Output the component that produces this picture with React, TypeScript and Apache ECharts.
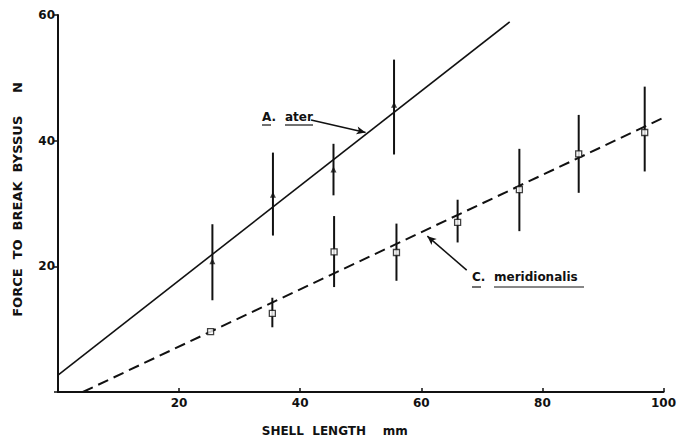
import React, { useEffect, useRef } from "react";
import * as echarts from "echarts";

const xTicks = [20, 40, 60, 80, 100];
const yTicks = [20, 40, 60];

const aterX = [25.5, 35.5, 45.5, 55.5];
const aterMean = [20.8, 31.4, 35.4, 45.7];
const aterLow = [14.6, 24.9, 31.3, 37.8];
const aterHigh = [26.7, 38.1, 39.5, 52.9];
const aterFit = [[0, 2.7], [74.6, 58.9]];

const merX = [25.2, 35.4, 45.6, 55.9, 66, 76.2, 86, 96.9];
const merMean = [9.6, 12.5, 22.3, 22.2, 27.0, 32.2, 37.9, 41.3];
const merLow = [9.6, 10.3, 16.7, 17.7, 23.8, 25.6, 31.7, 35.1];
const merHigh = [9.6, 15.0, 28.0, 26.8, 30.6, 38.7, 44.1, 48.6];
const merFit = [[4.1, 0], [101, 44.1]];

const aterArrow = [[41.8, 43.3], [50.8, 41.3]];
const merArrow = [[67.5, 19.4], [61.0, 24.8]];

const FONT = "DejaVu Sans";

export default function App() {
  const ref = useRef<HTMLDivElement>(null);
  useEffect(() => {
    const chart = echarts.init(ref.current!, null, { renderer: "svg" });
    const errData = (xs: number[], lo: number[], hi: number[]) =>
      xs.map((x, i) => [x, lo[i], hi[i]]);
    const errSeries = (data: number[][]) => ({
      type: "custom",
      data,
      silent: true,
      z: 3,
      renderItem: (params: any, api: any) => {
        const p1 = api.coord([api.value(0), api.value(1)]);
        const p2 = api.coord([api.value(0), api.value(2)]);
        return {
          type: "line",
          shape: { x1: p1[0], y1: p1[1], x2: p2[0], y2: p2[1] },
          style: { stroke: "#111", lineWidth: 2 },
        };
      },
    });
    const ul = (x1: number, x2: number, y: number) => ({
      type: "line",
      shape: { x1, y1: y, x2, y2: y },
      style: { stroke: "#111", lineWidth: 1.2 },
    });
    const txt = (text: string, left: number, top: number) => ({
      type: "text",
      left,
      top,
      style: { text, font: `bold 12px ${FONT}`, fill: "#111" },
    });
    chart.setOption({
      animation: false,
      backgroundColor: "#fff",
      grid: { left: 58, right: 11, top: 15, bottom: 49 },
      xAxis: {
        type: "value",
        min: 0,
        max: 100,
        interval: 20,
        splitLine: { show: false },
        axisLine: { lineStyle: { color: "#111", width: 2 } },
        axisTick: { inside: true, length: 4, lineStyle: { color: "#111", width: 1.5 } },
        axisLabel: {
          color: "#111",
          fontFamily: FONT,
          fontWeight: "bold",
          fontSize: 12,
          margin: 5,
          formatter: (v: number) => (xTicks.includes(v) ? String(v) : ""),
        },
        name: "SHELL  LENGTH    mm",
        nameLocation: "middle",
        nameGap: 33,
        nameTextStyle: {
          color: "#111",
          fontFamily: FONT,
          fontWeight: "bold",
          fontSize: 12,
          padding: [0, 52, 0, 0],
        },
      },
      yAxis: {
        type: "value",
        min: 0,
        max: 60,
        interval: 20,
        splitLine: { show: false },
        axisLine: { lineStyle: { color: "#111", width: 2 } },
        axisTick: { length: 4, lineStyle: { color: "#111", width: 1.5 } },
        axisLabel: {
          color: "#111",
          fontFamily: FONT,
          fontWeight: "bold",
          fontSize: 12,
          margin: 3,
          formatter: (v: number) => (yTicks.includes(v) ? String(v) : ""),
        },
        name: "FORCE  TO  BREAK  BYSSUS     N",
        nameLocation: "middle",
        nameGap: 34,
        nameTextStyle: {
          color: "#111",
          fontFamily: FONT,
          fontWeight: "bold",
          fontSize: 13,
          padding: [0, 0, 0, 8],
        },
      },
      series: [
        {
          type: "line",
          data: aterFit,
          symbol: "none",
          lineStyle: { color: "#111", width: 1.6 },
          z: 2,
          markLine: {
            silent: true,
            symbol: ["none", "arrow"],
            symbolSize: [6, 9],
            label: { show: false },
            lineStyle: { color: "#111", width: 1.5, type: "solid" },
            data: [[{ coord: aterArrow[0] }, { coord: aterArrow[1] }]],
          },
        },
        {
          type: "line",
          data: merFit,
          symbol: "none",
          clip: false,
          lineStyle: { color: "#111", width: 2, type: [11, 6] },
          z: 2,
          markLine: {
            silent: true,
            symbol: ["none", "arrow"],
            symbolSize: [6, 9],
            label: { show: false },
            lineStyle: { color: "#111", width: 1.5, type: "solid" },
            data: [[{ coord: merArrow[0] }, { coord: merArrow[1] }]],
          },
        },
        errSeries(errData(aterX, aterLow, aterHigh)),
        errSeries(errData(merX, merLow, merHigh)),
        {
          type: "scatter",
          data: aterX.map((x, i) => [x, aterMean[i]]),
          symbol: "triangle",
          symbolSize: 6,
          itemStyle: { color: "#111" },
          z: 4,
        },
        {
          type: "scatter",
          data: merX.map((x, i) => [x, merMean[i]]),
          symbol: "rect",
          symbolSize: 6,
          itemStyle: { color: "#fff", borderColor: "#111", borderWidth: 1.3 },
          z: 4,
        },
      ],
      graphic: [
        txt("A.", 262, 111),
        txt("ater", 285, 111),
        ul(262, 271, 125),
        ul(285, 313, 125),
        txt("C.", 472, 271),
        txt("meridionalis", 494, 271),
        ul(472, 481, 287),
        ul(494, 584, 287),
      ],
    });
    return () => chart.dispose();
  }, []);
  return <div ref={ref} style={{ width: 679, height: 442, position: "absolute", left: 0, top: 0 }} />;
}
